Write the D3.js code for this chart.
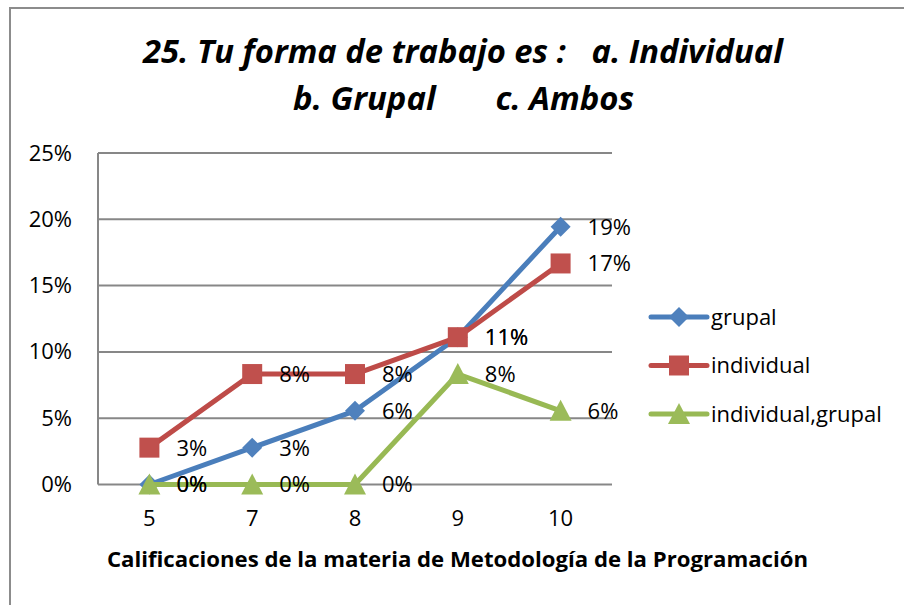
<!DOCTYPE html>
<html>
<head>
<meta charset="utf-8">
<script src="https://cdn.jsdelivr.net/npm/d3@7"></script>
<style>
  html, body { margin: 0; padding: 0; background: #fff; }
  svg { display: block; font-family: "Open Sans", "DejaVu Sans", sans-serif; }
  text { white-space: pre; }
</style>
</head>
<body>
<svg id="chart" width="904" height="605"></svg>
<script>
// Calificaciones (categorías del eje X)
const categories = ["5", "7", "8", "9", "10"];

// Proporción de alumnos por forma de trabajo
const grupal = [0, 0.0278, 0.0556, 0.1111, 0.1944];
const individual = [0.0278, 0.0833, 0.0833, 0.1111, 0.1667];
const individualGrupal = [0, 0, 0, 0.0833, 0.0556];

const seriesNames = ["grupal", "individual", "individual,grupal"];
const yTicks = [0, 0.05, 0.10, 0.15, 0.20, 0.25];

const titleLines = ["25. Tu forma de trabajo es :   a. Individual", "b. Grupal       c. Ambos"];
const xTitle = "Calificaciones de la materia de Metodología de la Programación";

const series = [
  { name: seriesNames[0], values: grupal, line: "#4A7EBB", fill: "#4F81BD", shape: "diamond" },
  { name: seriesNames[1], values: individual, line: "#BE4B48", fill: "#C0504D", shape: "square" },
  { name: seriesNames[2], values: individualGrupal, line: "#98B954", fill: "#9BBB59", shape: "triangle" }
];

const svg = d3.select("#chart");

// Outer chart frame
svg.append("rect")
  .attr("x", 10).attr("y", 8)
  .attr("width", 1000).attr("height", 700)
  .attr("fill", "#fff")
  .attr("stroke", "#8c8c8c").attr("stroke-width", 2);

// Title
const title = svg.append("g").attr("font-weight", "bold").attr("font-style", "italic")
  .attr("font-size", 33).attr("fill", "#000");
title.append("text").attr("x", 143).attr("y", 63).text(titleLines[0])
  .attr("textLength", 640).attr("lengthAdjust", "spacingAndGlyphs");
title.append("text").attr("x", 293).attr("y", 110).text(titleLines[1])
  .attr("textLength", 341).attr("lengthAdjust", "spacingAndGlyphs");

// Plot area
const plot = { left: 98, right: 612, top: 153, bottom: 484.5 };

const x = d3.scaleBand().domain(categories).range([plot.left, plot.right]);
const xc = c => x(c) + x.bandwidth() / 2;
const y = d3.scaleLinear().domain([0, 0.25]).range([plot.bottom, plot.top]);

// Gridlines
svg.append("g").selectAll("line").data(yTicks).join("line")
  .attr("x1", plot.left).attr("x2", plot.right)
  .attr("y1", d => y(d)).attr("y2", d => y(d))
  .attr("stroke", "#878787").attr("stroke-width", 2);

// Vertical axis line
svg.append("line")
  .attr("x1", plot.left).attr("x2", plot.left)
  .attr("y1", plot.top).attr("y2", plot.bottom)
  .attr("stroke", "#878787").attr("stroke-width", 2);

// Y axis labels
const yAxis = d3.axisLeft(y).tickValues(yTicks).tickFormat(d3.format(".0%")).tickSize(0).tickPadding(26);
const gy = svg.append("g").attr("transform", `translate(${plot.left},0)`).call(yAxis);
gy.select(".domain").remove();
gy.selectAll("text").attr("font-size", 22).attr("font-family", "Open Sans").attr("fill", "#000");

// X axis labels
const xAxis = d3.axisBottom(x).tickSize(0).tickPadding(26);
const gx = svg.append("g").attr("transform", `translate(0,${plot.bottom})`).call(xAxis);
gx.select(".domain").remove();
gx.selectAll("text").attr("font-size", 22).attr("font-family", "Open Sans").attr("fill", "#000");

// X axis title
svg.append("text")
  .attr("x", 107).attr("y", 567)
  .attr("font-size", 21).attr("font-weight", "bold").attr("fill", "#000")
  .attr("textLength", 701).attr("lengthAdjust", "spacingAndGlyphs")
  .text(xTitle);

// Marker shapes
function markerPath(shape) {
  if (shape === "diamond") return "M0,-10L10,0L0,10L-10,0Z";
  if (shape === "square") return "M-10,-10H10V10H-10Z";
  return "M0,-11L11,10H-11Z";
}

const line = d3.line().x((d, i) => xc(categories[i])).y(d => y(d));
const fmt = d3.format(".0%");

series.forEach(s => {
  const g = svg.append("g");
  g.append("path").datum(s.values)
    .attr("d", line)
    .attr("fill", "none").attr("stroke", s.line)
    .attr("stroke-width", 5).attr("stroke-linejoin", "round");
  g.selectAll("path.mk").data(s.values).join("path").attr("class", "mk")
    .attr("transform", (d, i) => `translate(${xc(categories[i])},${y(d)})`)
    .attr("d", markerPath(s.shape))
    .attr("fill", s.fill);
});

// Data labels
series.forEach(s => {
  svg.append("g").selectAll("text").data(s.values).join("text")
    .attr("x", (d, i) => xc(categories[i]) + 27)
    .attr("y", d => y(d))
    .attr("dy", "0.36em")
    .attr("font-size", 22).attr("fill", "#000")
    .text(d => fmt(d));
});

// Legend
const legend = svg.append("g");
const legendY = [317, 365.5, 414];
series.forEach((s, i) => {
  const g = legend.append("g").attr("transform", `translate(0,${legendY[i]})`);
  g.append("line").attr("x1", 651).attr("x2", 707)
    .attr("stroke", s.line).attr("stroke-width", 5).attr("stroke-linecap", "round");
  g.append("path").attr("transform", "translate(679,0)")
    .attr("d", markerPath(s.shape)).attr("fill", s.fill);
  g.append("text").attr("x", 711).attr("dy", "0.36em")
    .attr("font-size", 22).attr("fill", "#000").text(s.name);
});
</script>
</body>
</html>
